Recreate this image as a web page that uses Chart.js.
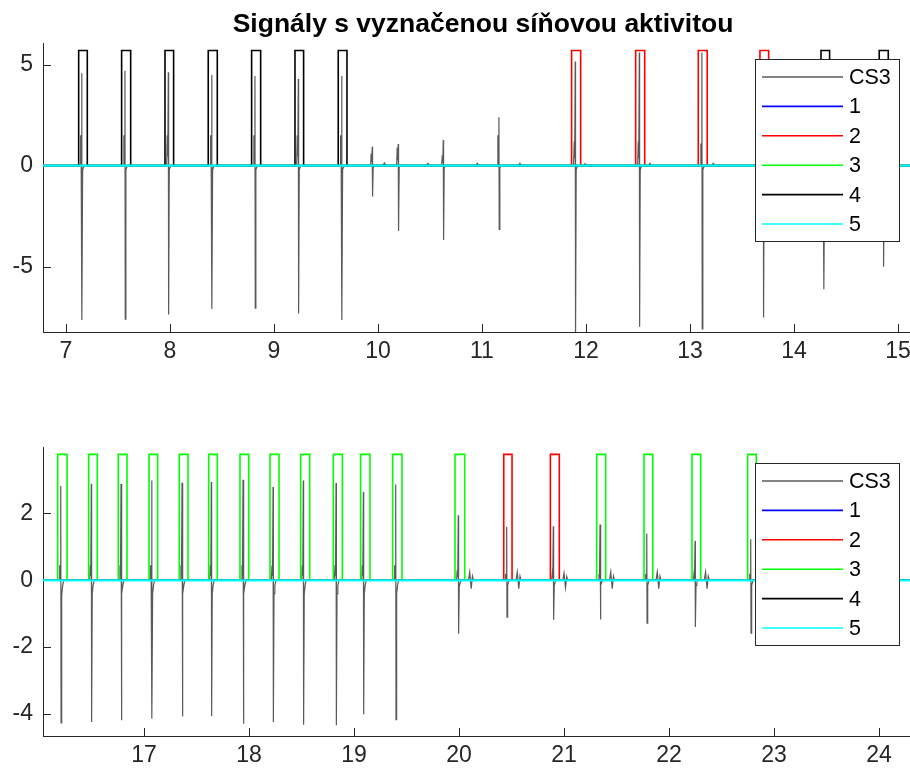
<!DOCTYPE html>
<html>
<head>
<meta charset="utf-8">
<title>Signály s vyznačenou síňovou aktivitou</title>
<script src="https://cdn.jsdelivr.net/npm/chart.js@4.4.1/dist/chart.umd.min.js"></script>
<style>
  html, body { margin: 0; padding: 0; background: #fff; }
  #wrap { position: relative; width: 910px; height: 773px; }
  canvas { position: absolute; left: 0; }
</style>
</head>
<body>
<div id="wrap">
  <canvas id="topChart" width="910" height="386" style="top:0"></canvas>
  <canvas id="bottomChart" width="910" height="387" style="top:386px"></canvas>
</div>
<script>
const titleText = "Signály s vyznačenou síňovou aktivitou";
const seriesLabels = ["CS3", "1", "2", "3", "4", "5"];
const seriesColors = ["#5a5a5a", "#0000ff", "#ff0000", "#00ff00", "#000000", "#00ffff"];

// upper panel
const topXRange = [6.779, 15.116];
const topYRange = [-8.23, 6.07];
const topXTicks = [7, 8, 9, 10, 11, 12, 13, 14, 15];
const topYTicks = [-5, 0, 5];
const topSpikeT = [7.151, 7.567, 7.984, 8.401, 8.817, 9.234, 9.651, 9.945, 10.195, 10.628,
  11.163, 11.897, 12.513, 13.115, 13.705, 14.286, 14.859];
const topSpikeHi = [4.57, 4.70, 4.62, 4.49, 4.44, 4.29, 4.44, 0.94, 1.07, 1.27,
  2.39, 5.15, 5.6, 5.6, 5.2, 5.0, 4.8];
const topSpikeLo = [-7.64, -7.59, -7.36, -7.09, -7.05, -7.31, -7.64, -1.53, -3.23, -3.68,
  -3.15, -8.6, -7.97, -8.08, -7.51, -6.12, -5.0];
const topSpikePre = [1.5, 1.5, 1.5, 1.5, 1.5, 1.5, 1.5, 0.6, 0.9, 0.5,
  1.5, 1.2, 1.2, 1.1, 1.0, 1.0, 1.0];
const topSpikePost = [-0.2, -0.2, -0.2, -0.2, -0.2, -0.2, -0.2, -0.1, -0.1, -0.1,
  -0.1, -0.2, -0.2, -0.2, -0.2, -0.2, -0.2];
const topBumpT = [10.062, 10.48, 10.955, 11.365, 11.99, 12.615, 13.224];
const topBumpA = [0.13, 0.12, 0.12, 0.12, 0.1, 0.12, 0.12];
const topWaveT = [];
const topWaveA = [];
const topBoxHeight = 5.7;
const topBoxes2 = [[11.862, 11.949], [12.478, 12.565], [13.080, 13.166], [13.673, 13.757]];
const topBoxes3 = [];
const topBoxes4 = [[7.122, 7.205], [7.535, 7.622], [7.952, 8.035], [8.368, 8.455], [8.785, 8.872],
  [9.202, 9.285], [9.618, 9.702], [14.260, 14.343], [14.820, 14.907]];

// lower panel
const botXRange = [16.038, 24.295];
const botYRange = [-4.66, 3.99];
const botXTicks = [17, 18, 19, 20, 21, 22, 23, 24];
const botYTicks = [-4, -2, 0, 2];
const botSpikeT = [16.207, 16.498, 16.781, 17.073, 17.362, 17.641, 17.943, 18.229, 18.517, 18.829,
  19.089, 19.397, 19.993, 20.454, 20.898, 21.343, 21.788, 22.248, 22.778];
const botSpikeHi = [2.82, 2.89, 2.88, 2.99, 2.92, 2.94, 3.01, 2.79, 2.99, 2.91,
  2.64, 2.87, 1.95, 1.60, 1.62, 1.67, 1.40, 1.18, 1.23];
const botSpikeLo = [-4.27, -4.24, -4.19, -4.14, -4.07, -4.07, -4.29, -4.24, -4.32, -4.34,
  -4.01, -4.17, -1.60, -1.10, -1.18, -1.17, -1.28, -1.40, -1.58];
const botSpikePre = [0.45, 0.45, 0.45, 0.45, 0.45, 0.45, 0.45, 0.45, 0.45, 0.45,
  0.45, 0.45, 0.3, 0.2, 0.2, 0.2, 0.2, 0.2, 0.2];
const botSpikePost = [-0.45, -0.4, -0.4, -0.4, -0.4, -0.4, -0.4, -0.4, -0.4, -0.4,
  -0.4, -0.4, -0.2, -0.15, -0.15, -0.15, -0.15, -0.15, -0.15];
const botBumpT = [];
const botBumpA = [];
const botWaveT = [20.112, 20.565, 21.010, 21.455, 21.898, 22.358, 22.888];
const botWaveA = [0.25, 0.25, 0.22, 0.25, 0.25, 0.25, 0.25];
const botBoxHeight = 3.77;
const botBoxes2 = [[20.426, 20.505], [20.870, 20.955]];
const botBoxes3 = [[16.178, 16.267], [16.473, 16.555], [16.755, 16.838], [17.048, 17.130],
  [17.336, 17.419], [17.616, 17.698], [17.914, 17.997], [18.200, 18.286], [18.492, 18.578],
  [18.803, 18.889], [19.063, 19.152], [19.368, 19.457], [19.962, 20.054], [21.311, 21.397],
  [21.762, 21.845], [22.219, 22.302], [22.749, 22.831]];
const botBoxes4 = [];

const axisColor = "#262626";
const fontFamily = "'Liberation Sans', Arial, Helvetica, sans-serif";

// one deflection: small lead-in, main up/down swing, short tail
function spikePoints(t, hi, lo, pre, post) {
  return [[t - 0.016, 0], [t - 0.01, pre], [t - 0.005, pre * 0.3], [t, hi],
    [t + 0.003, lo], [t + 0.009, post], [t + 0.017, post * 0.4], [t + 0.028, 0]];
}
function bumpPoints(t, a) {
  return [[t - 0.015, 0], [t, a], [t + 0.015, 0]];
}
function wavePoints(t, a) {
  return [[t - 0.022, 0], [t - 0.01, a], [t + 0.004, -a], [t + 0.016, a * 0.5], [t + 0.026, 0]];
}

function buildSignal(p) {
  let pts = [];
  p.spikeT.forEach((t, i) => {
    pts = pts.concat(spikePoints(t, p.spikeHi[i], p.spikeLo[i], p.spikePre[i], p.spikePost[i]));
  });
  p.bumpT.forEach((t, i) => { pts = pts.concat(bumpPoints(t, p.bumpA[i])); });
  p.waveT.forEach((t, i) => { pts = pts.concat(wavePoints(t, p.waveA[i])); });
  pts.sort((a, b) => a[0] - b[0]);
  const out = [{ x: p.xRange[0], y: 0 }];
  pts.forEach(([x, y]) => out.push({ x: x, y: y }));
  out.push({ x: p.xRange[1], y: 0 });
  return out;
}

function buildBoxes(boxes, h, range) {
  const pts = [{ x: range[0], y: 0 }];
  boxes.forEach(([s, e]) => {
    pts.push({ x: s, y: 0 }, { x: s, y: h }, { x: e, y: h }, { x: e, y: 0 });
  });
  pts.push({ x: range[1], y: 0 });
  return pts;
}

// MATLAB-style ticks pointing into the plot
const inwardTicks = {
  id: "inwardTicks",
  beforeDatasetsDraw(chart) {
    const ctx = chart.ctx;
    const area = chart.chartArea;
    const xs = chart.scales.x, ys = chart.scales.y;
    ctx.save();
    ctx.strokeStyle = axisColor;
    ctx.lineWidth = 1;
    ctx.beginPath();
    xs.ticks.forEach((t) => {
      const px = Math.round(xs.getPixelForValue(t.value)) + 0.5;
      ctx.moveTo(px, area.bottom);
      ctx.lineTo(px, area.bottom - 8);
    });
    ys.ticks.forEach((t) => {
      const py = Math.round(ys.getPixelForValue(t.value)) + 0.5;
      ctx.moveTo(area.left, py);
      ctx.lineTo(area.left + 8, py);
    });
    ctx.stroke();
    ctx.restore();
  }
};

// boxed legend sitting inside the top-right of the plot
const boxLegend = {
  id: "boxLegend",
  afterDraw(chart) {
    const ctx = chart.ctx;
    const area = chart.chartArea;
    const left = area.left + 712, top = area.top + 16, w = 144, h = 182;
    ctx.save();
    ctx.fillStyle = "#ffffff";
    ctx.fillRect(left, top, w, h);
    ctx.strokeStyle = axisColor;
    ctx.lineWidth = 1;
    ctx.strokeRect(Math.round(left) + 0.5, Math.round(top) + 0.5, w, h);
    ctx.font = "21.5px " + fontFamily;
    ctx.textBaseline = "middle";
    ctx.textAlign = "left";
    chart.data.datasets.forEach((ds, i) => {
      const y = top + 18 + 29.4 * i;
      ctx.strokeStyle = ds.borderColor;
      ctx.lineWidth = i === 0 ? 1.3 : 1.6;
      ctx.beginPath();
      ctx.moveTo(left + 7, y);
      ctx.lineTo(left + 88, y);
      ctx.stroke();
      ctx.fillStyle = "#000000";
      ctx.fillText(ds.label, left + 94, y + 1);
    });
    ctx.restore();
  }
};

const plotTitle = {
  id: "plotTitle",
  afterDraw(chart) {
    const ctx = chart.ctx;
    ctx.save();
    ctx.font = "bold 26.5px " + fontFamily;
    ctx.fillStyle = "#000000";
    ctx.textAlign = "center";
    ctx.textBaseline = "alphabetic";
    ctx.fillText(titleText, 483, 32);
    ctx.restore();
  }
};

function makePanel(canvasId, p) {
  const order = [6, 5, 4, 3, 2, 1];
  const flat = [{ x: p.xRange[0], y: 0 }, { x: p.xRange[1], y: 0 }];
  const seriesData = [
    buildSignal(p),
    flat,
    buildBoxes(p.boxes2, p.boxHeight, p.xRange),
    buildBoxes(p.boxes3, p.boxHeight, p.xRange),
    buildBoxes(p.boxes4, p.boxHeight, p.xRange),
    flat
  ];
  const datasets = seriesLabels.map((label, i) => ({
    label: label,
    data: seriesData[i],
    borderColor: seriesColors[i],
    backgroundColor: seriesColors[i],
    borderWidth: i === 0 ? 1.2 : (i === 5 ? 2.2 : 1.6),
    showLine: true,
    pointRadius: 0,
    fill: false,
    tension: 0,
    order: order[i]
  }));
  const tickFont = { family: fontFamily, size: 23 };
  return new Chart(document.getElementById(canvasId), {
    type: "scatter",
    data: { datasets: datasets },
    options: {
      responsive: false,
      animation: false,
      events: [],
      layout: { padding: { top: p.padTop, right: 0, bottom: 0, left: 0 } },
      plugins: { legend: { display: false }, tooltip: { enabled: false }, title: { display: false } },
      scales: {
        x: {
          type: "linear",
          min: p.xRange[0],
          max: p.xRange[1],
          afterBuildTicks: (s) => { s.ticks = p.xTicks.map((v) => ({ value: v })); },
          afterFit: (s) => {
            s.height = p.xAxisHeight;
            s.paddingLeft = 0;
            s.paddingRight = 0;
          },
          grid: { display: false, drawTicks: false },
          border: { display: true, color: axisColor, width: 1 },
          ticks: { color: axisColor, font: tickFont, padding: 6, maxRotation: 0, autoSkip: false }
        },
        y: {
          type: "linear",
          min: p.yRange[0],
          max: p.yRange[1],
          afterBuildTicks: (s) => { s.ticks = p.yTicks.map((v) => ({ value: v })); },
          afterFit: (s) => {
            s.width = 43;
            s.paddingTop = 0;
            s.paddingBottom = 0;
          },
          grid: { display: false, drawTicks: false },
          border: { display: true, color: axisColor, width: 1 },
          ticks: { color: axisColor, font: tickFont, padding: 10, autoSkip: false }
        }
      }
    },
    plugins: p.withTitle ? [inwardTicks, boxLegend, plotTitle] : [inwardTicks, boxLegend]
  });
}

makePanel("topChart", {
  xRange: topXRange, yRange: topYRange, xTicks: topXTicks, yTicks: topYTicks,
  spikeT: topSpikeT, spikeHi: topSpikeHi, spikeLo: topSpikeLo, spikePre: topSpikePre, spikePost: topSpikePost,
  bumpT: topBumpT, bumpA: topBumpA, waveT: topWaveT, waveA: topWaveA,
  boxHeight: topBoxHeight, boxes2: topBoxes2, boxes3: topBoxes3, boxes4: topBoxes4,
  padTop: 43, xAxisHeight: 54, withTitle: true
});

makePanel("bottomChart", {
  xRange: botXRange, yRange: botYRange, xTicks: botXTicks, yTicks: botYTicks,
  spikeT: botSpikeT, spikeHi: botSpikeHi, spikeLo: botSpikeLo, spikePre: botSpikePre, spikePost: botSpikePost,
  bumpT: botBumpT, bumpA: botBumpA, waveT: botWaveT, waveA: botWaveA,
  boxHeight: botBoxHeight, boxes2: botBoxes2, boxes3: botBoxes3, boxes4: botBoxes4,
  padTop: 61, xAxisHeight: 37, withTitle: false
});
</script>
</body>
</html>
